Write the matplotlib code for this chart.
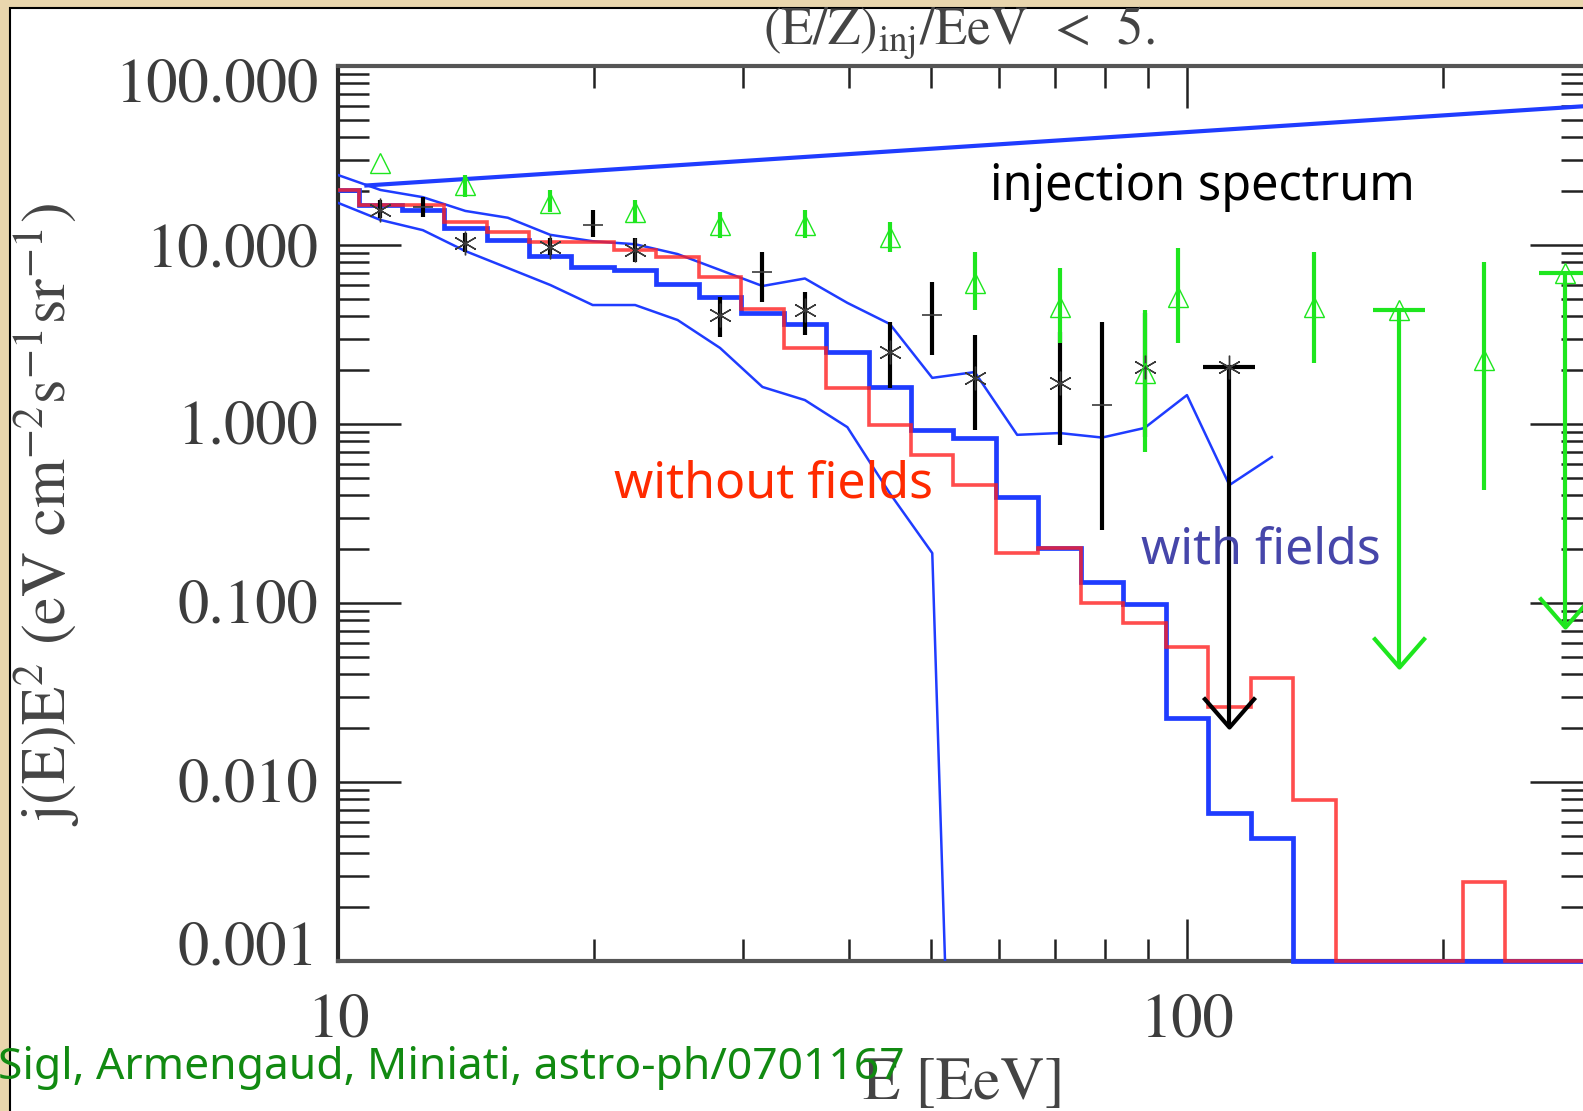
import numpy as np
import matplotlib
matplotlib.use('Agg')
import matplotlib.pyplot as plt
from matplotlib.patches import Rectangle
from matplotlib.path import Path
from matplotlib.transforms import blended_transform_factory, ScaledTranslation
import matplotlib.ticker as mticker

plt.rcParams['mathtext.fontset'] = 'stix'

# ---------------- data ----------------
# histogram bin centres in log10(E/EeV)
bin_logE = [1.00, 1.05, 1.10, 1.15, 1.20, 1.25, 1.30, 1.35, 1.40, 1.45,
            1.50, 1.55, 1.60, 1.65, 1.70, 1.75, 1.80, 1.85, 1.90, 1.95,
            2.00, 2.05, 2.10, 2.15, 2.20, 2.25, 2.30, 2.35, 2.40, 2.45]
with_fields_hist = [20.3, 16.7, 15.7, 12.45, 10.7, 8.69, 7.54, 7.25, 6.05, 5.12,
                    4.17, 3.62, 2.52, 1.61, 0.926, 0.835, 0.391, 0.203, 0.131, 0.0987,
                    0.0228, 0.00671, 0.00486, 0, 0, 0, 0, 0, 0, 0]
without_fields_hist = [20.3, 16.7, 16.7, 13.4, 11.8, 10.4, 10.4, 9.38, 8.57, 6.62,
                       4.39, 2.66, 1.59, 0.987, 0.671, 0.456, 0.190, 0.203, 0.100, 0.0773,
                       0.0567, 0.0262, 0.0381, 0.00793, 0, 0, 0, 0.00276, 0, 0]

# with-fields variance band (thin curves)
upper_logE = [1.00, 1.05, 1.10, 1.15, 1.20, 1.25, 1.30, 1.35, 1.40, 1.45, 1.50, 1.55,
              1.60, 1.65, 1.70, 1.75, 1.80, 1.85, 1.90, 1.95, 2.00, 2.05, 2.10]
upper_band = [24.6, 20.3, 18.5, 15.5, 14.2, 11.4, 10.5, 10.1, 8.9, 7.25, 5.9, 6.5,
              4.75, 3.62, 1.81, 1.95, 0.87, 0.89, 0.84, 0.95, 1.45, 0.456, 0.654]
lower_logE = [1.00, 1.05, 1.10, 1.15, 1.20, 1.25, 1.30, 1.35, 1.40, 1.45, 1.50, 1.55,
              1.60, 1.65, 1.70, 1.75]
lower_band = [17.2, 13.8, 12.1, 9.25, 7.44, 5.98, 4.62, 4.62, 3.81, 2.66, 1.61, 1.36,
              0.96, 0.41, 0.19, 5e-9]

# injection spectrum
inj_E = [10.8, 300.0]
inj_J = [21.5, 60.0]

# black data, asterisks
ast_logE = [1.05, 1.15, 1.25, 1.35, 1.45, 1.55, 1.65, 1.75, 1.85, 1.95]
ast_val = [15.7, 10.3, 9.75, 9.38, 4.06, 4.33, 2.52, 1.81, 1.69, 2.08]
ast_lo = [14.2, 9.14, 8.79, 8.04, 3.06, 3.14, 1.59, 0.925, 0.764, 0.85]
ast_hi = [17.8, 11.7, 10.9, 10.9, 5.12, 5.45, 3.72, 3.14, 3.27, 4.17]
# black data, plus signs
plus_logE = [1.10, 1.30, 1.50, 1.70, 1.90]
plus_val = [16.3, 12.9, 7.07, 4.06, 1.28]
plus_lo = [14.3, 11.1, 4.81, 2.43, 0.256]
plus_hi = [18.5, 15.7, 9.14, 6.21, 3.72]
# black upper limit
blk_ul_logE = [2.05]
blk_ul_val = [2.08]
blk_ul_tip = [0.0203]

# green data, triangles
tri_logE = [1.05, 1.15, 1.25, 1.35, 1.45, 1.55, 1.65, 1.75, 1.85, 1.95, 1.99, 2.15, 2.35]
tri_val = [28.7, 21.6, 17.2, 15.3, 12.9, 12.9, 11.1, 6.14, 4.51, 1.93, 5.12, 4.51, 2.28]
tri_lo = [28.7, 18.5, 15.3, 13.4, 10.9, 10.9, 9.14, 4.33, 2.84, 0.698, 2.84, 2.19, 0.428]
tri_hi = [28.7, 24.6, 20.3, 17.8, 15.3, 15.7, 13.4, 9.14, 7.44, 4.33, 9.6, 9.14, 8.04]
# green upper limits
grn_ul_logE = [2.25, 2.445]
grn_ul_val = [4.33, 6.98]
grn_ul_tip = [0.0439, 0.0735]

ytick_vals = [100, 10, 1, 0.1, 0.01, 0.001]
ytick_text = ['100.000', '10.000', '1.000', '0.100', '0.010', '0.001']
xtick_vals = [10, 100]
xtick_text = ['10', '100']

# ---------------- figure ----------------
W, H = 1583, 1111
fig = plt.figure(figsize=(W / 100, H / 100), dpi=100)
fig.patch.set_facecolor('#e9d6ad')
panel = Rectangle((10 / W, -0.01), 1.0, 1.01 - 8 / H, transform=fig.transFigure,
                  facecolor='white', edgecolor='black', lw=1.5, zorder=-5)
fig.patches.append(panel)

ax = fig.add_axes([338 / W, 1 - 961 / H, (1592 - 338) / W, (961 - 66) / H])
ax.set_zorder(2)
ax.patch.set_alpha(0)
ax.set_xscale('log')
ax.set_yscale('log')
XMIN, XMAX, YMIN, YMAX = 10, 300, 1e-3, 100
ax.set_xlim(XMIN, XMAX)
ax.set_ylim(YMIN, YMAX)

BLUE = '#1f3cff'
RED = '#ff2020'
GREEN = '#1ee61e'

# histograms
c = np.array(bin_logE)
edges = np.concatenate([10 ** (c - 0.025), [10 ** (c[-1] + 0.025)]])
edges = np.clip(edges, XMIN, XMAX)
wf = np.array(with_fields_hist, dtype=float)
nf = np.array(without_fields_hist, dtype=float)
wf = np.where(wf > 0, wf, YMIN)
nf = np.where(nf > 0, nf, YMIN)
ax.stairs(wf, edges, baseline=None, color=BLUE, lw=3.4, clip_on=False, zorder=4)
ax.stairs(nf, edges, baseline=None, color=RED, lw=2.6, alpha=0.8, clip_on=False, zorder=5)

# band curves & injection
ax.plot(10 ** np.array(upper_logE), upper_band, color=BLUE, lw=1.8, zorder=4)
ax.plot(10 ** np.array(lower_logE), lower_band, color=BLUE, lw=1.8, zorder=4)
ax.plot(inj_E, inj_J, color=BLUE, lw=3.0, zorder=4)

# data points with error bars
def bars(logE, val, lo, hi, color, lw):
    E = 10 ** np.array(logE)
    v = np.array(val)
    ax.errorbar(E, v, yerr=[v - np.array(lo), np.array(hi) - v], fmt='none',
                ecolor=color, elinewidth=lw, capsize=0, zorder=6)
    return E, v

E, v = bars(ast_logE, ast_val, ast_lo, ast_hi, 'black', 3.0)
ax.plot(E, v, ls='none', marker=(6, 2, 0), ms=17, mew=1.0, color='#3a3a3a', zorder=7)
E, v = bars(plus_logE, plus_val, plus_lo, plus_hi, 'black', 3.0)
ax.plot(E, v, ls='none', marker='_', ms=15, mew=1.2, color='#3a3a3a', zorder=7)

# open "V" arrowhead marker, tip at origin
vhead = Path([(-0.87, 1.0), (0.0, 0.0), (0.87, 1.0)], [Path.MOVETO, Path.LINETO, Path.LINETO])

def upper_limits(logE, val, tip, color, lw):
    E = 10 ** np.array(logE)
    ax.vlines(E, tip, val, color=color, lw=lw, zorder=6)
    ax.plot(E, val, ls='none', marker='_', ms=37, mew=lw, color=color, zorder=6)
    ax.plot(E, tip, ls='none', marker=vhead, ms=43, mew=lw, mfc='none', color=color, zorder=6)
    return E

E = upper_limits(blk_ul_logE, blk_ul_val, blk_ul_tip, 'black', 3.0)
ax.plot(E, blk_ul_val, ls='none', marker=(6, 2, 0), ms=17, mew=1.0, color='#3a3a3a', zorder=7)

E, v = bars(tri_logE, tri_val, tri_lo, tri_hi, GREEN, 3.0)
ax.plot(E, v, ls='none', marker='^', ms=14, mew=1.0, mfc='none', mec=GREEN, zorder=7)
E = upper_limits(grn_ul_logE, grn_ul_val, grn_ul_tip, GREEN, 3.0)
ax.plot(E, grn_ul_val, ls='none', marker='^', ms=14, mew=1.0, mfc='none', mec=GREEN, zorder=7)

# ---------------- axes styling ----------------
for s in ax.spines.values():
    s.set_linewidth(3.0)
    s.set_color('#2a2a2a')
ax.spines['bottom'].set_color('#555555')
ax.spines['top'].set_color('#555555')

ax.xaxis.set_major_locator(mticker.FixedLocator(xtick_vals))
ax.xaxis.set_minor_locator(mticker.LogLocator(base=10, subs=np.arange(2, 10), numticks=20))
ax.yaxis.set_major_locator(mticker.FixedLocator(ytick_vals))
ax.yaxis.set_minor_locator(mticker.LogLocator(base=10, subs=np.arange(2, 10), numticks=20))
ax.xaxis.set_major_formatter(mticker.NullFormatter())
ax.xaxis.set_minor_formatter(mticker.NullFormatter())
ax.yaxis.set_major_formatter(mticker.NullFormatter())
ax.yaxis.set_minor_formatter(mticker.NullFormatter())
ax.tick_params(axis='both', which='both', direction='in', top=True, right=True,
               color='#222222', width=1.8)
ax.tick_params(axis='y', which='major', length=45)
ax.tick_params(axis='y', which='minor', length=22)
ax.tick_params(axis='x', which='major', length=30)
ax.tick_params(axis='x', which='minor', length=16)

LAB = dict(family='STIXGeneral', color='#3c3c3c', fontsize=45)
ytr = blended_transform_factory(ax.transAxes, ax.transData)
yoff = [-21, -7, -5, -5, -5, 11]
for val, txt, dy in zip(ytick_vals, ytick_text, yoff):
    t = ytr + ScaledTranslation(-0.20, dy / 100.0, fig.dpi_scale_trans)
    ax.text(0, val, txt, transform=t, ha='right', va='center', clip_on=False, **LAB)
xtr = blended_transform_factory(ax.transData, ax.transAxes)
for val, txt in zip(xtick_vals, xtick_text):
    t = xtr + ScaledTranslation(0, -0.61, fig.dpi_scale_trans)
    ax.text(val, 0, txt, transform=t, ha='center', va='center', clip_on=False, **LAB)

fig.text(959 / W, 1 - 33 / H, r'(E/Z)$_{\mathrm{inj}}$/EeV  <  5.', ha='center', va='center',
         family='STIXGeneral', color='#444444', fontsize=38)
fig.text(964 / W, 1 - 1085 / H, 'E [EeV]', ha='center', va='center',
         family='STIXGeneral', color='#444444', fontsize=44)
fig.text(47 / W, 1 - 515 / H, r'j(E)E$^{2}$ (eV cm$^{-2}$s$^{-1}$sr$^{-1}$)', rotation=90,
         ha='center', va='center', family='STIXGeneral', color='#444444', fontsize=45)

# annotations
fig.text(1202 / W, 1 - 187 / H, 'injection spectrum', ha='center', va='center',
         family='Noto Sans', color='black', fontsize=35)
fig.text(774 / W, 1 - 485 / H, 'without fields', ha='center', va='center',
         family='Noto Sans', color='#ff2a00', fontsize=36)
fig.text(1261 / W, 1 - 550 / H, 'with fields', ha='center', va='center',
         family='Noto Sans', color='#4646aa', fontsize=36)
fig.text(-2 / W, 1 - 1068 / H, 'Sigl, Armengaud, Miniati, astro-ph/0701167', ha='left', va='center',
         family='Noto Sans', color='#118a11', fontsize=32)

fig.savefig('out.png', dpi=100, facecolor=fig.get_facecolor())
